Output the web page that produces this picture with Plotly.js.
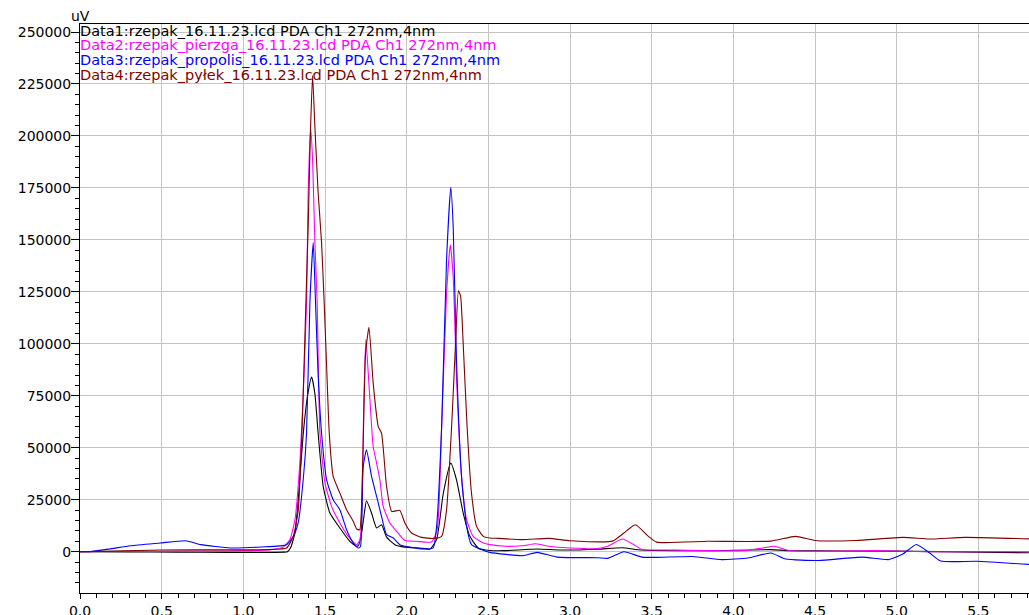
<!DOCTYPE html>
<html>
<head>
<meta charset="utf-8">
<script src="https://cdn.plot.ly/plotly-3.0.1.min.js"></script>
<style>html,body{margin:0;padding:0;background:#fff;}#chart{width:1029px;height:615px;}</style>
</head>
<body>
<div id="chart"></div>
<script>
// Series names / legend texts
const seriesNames = [
  "Data1:rzepak_16.11.23.lcd PDA Ch1 272nm,4nm",
  "Data2:rzepak_pierzga_16.11.23.lcd PDA Ch1 272nm,4nm",
  "Data3:rzepak_propolis_16.11.23.lcd PDA Ch1 272nm,4nm",
  "Data4:rzepak_pyłek_16.11.23.lcd PDA Ch1 272nm,4nm"
];
const seriesColors = ["#000000", "#ff00ff", "#0000ff", "#800000"];

// Data1 (black)
const t1 = [0,0.3,0.6,0.9,1.1,1.25,1.27,1.29,1.316,1.336,1.367,1.395,1.418,1.438,1.458,1.489,1.53,1.591,1.652,1.693,1.705,1.724,1.74,1.754,1.785,1.816,1.846,1.877,1.928,1.989,2.081,2.142,2.183,2.224,2.27,2.305,2.346,2.387,2.438,2.509,2.6,2.8,2.94,3.17,3.32,3.44,3.84,4.23,4.34,5.0,5.81];
const y1 = [0,-100,-200,-300,-300,-200,0,2000,9000,25000,57000,76000,84000,76000,57000,31400,18600,11400,5000,2600,3000,9000,18000,24500,18600,11400,13000,7000,3400,2200,1800,1300,5800,28000,42600,34600,18600,7400,1800,600,500,1300,800,1200,1900,800,500,1000,500,300,-500];

// Data2 (magenta)
const t2 = [0,0.3,0.6,0.9,1.163,1.244,1.285,1.316,1.347,1.367,1.387,1.397,1.412,1.424,1.438,1.452,1.469,1.5,1.54,1.591,1.642,1.693,1.714,1.738,1.75,1.775,1.795,1.816,1.836,1.856,1.897,1.938,1.989,2.06,2.152,2.187,2.214,2.244,2.267,2.285,2.305,2.336,2.367,2.407,2.469,2.509,2.6,2.71,2.79,2.87,3.0,3.17,3.23,3.32,3.39,3.44,3.62,4.07,4.18,4.25,4.34,4.52,4.86,5.2,5.81];
const y2 = [0,200,300,300,1000,2200,5800,15400,44000,76000,119700,172600,203700,188500,148500,119700,57000,33000,21800,13800,7400,3400,5800,73000,102200,73000,50600,42600,34600,21800,13800,9800,5400,5000,4700,10600,60000,124000,147600,132000,84000,36000,15400,7400,4200,3400,2600,2900,3800,2600,1800,1500,2600,6100,3400,1100,800,500,1800,2600,600,200,500,0,0];

// Data3 (blue)
const t3 = [0,0.06,0.18,0.31,0.49,0.647,0.74,0.92,1.11,1.265,1.306,1.336,1.367,1.387,1.408,1.428,1.442,1.458,1.479,1.51,1.55,1.591,1.632,1.673,1.703,1.717,1.734,1.754,1.785,1.816,1.846,1.877,1.918,1.958,2.02,2.101,2.162,2.183,2.214,2.244,2.27,2.285,2.305,2.336,2.367,2.397,2.448,2.509,2.71,2.8,2.92,3.17,3.23,3.33,3.44,3.53,3.75,3.93,4.09,4.23,4.32,4.52,4.79,4.95,5.04,5.12,5.2,5.27,5.49,5.81];
const y3 = [0,0,1300,2900,4200,5300,3400,1800,2300,3400,7400,14000,35000,57000,121000,148700,119700,85000,57000,34600,25000,20200,10600,4200,1800,2500,41000,49000,36200,26600,17000,8200,6600,3400,2200,1300,1800,12200,60000,140000,175300,156000,92000,36000,12200,3400,1300,-300,-1900,-300,-2600,-2900,-3200,0,-2600,-2700,-2300,-3800,-3000,-600,-3500,-4200,-2600,-3800,-1000,3500,-500,-4500,-4600,-6100];

// Data4 (dark red)
const t4 = [0,0.2,0.5,0.9,1.163,1.265,1.306,1.336,1.36,1.383,1.397,1.41,1.424,1.438,1.458,1.479,1.495,1.51,1.526,1.55,1.591,1.632,1.673,1.693,1.712,1.73,1.748,1.769,1.795,1.826,1.846,1.877,1.908,1.958,1.989,2.03,2.091,2.162,2.214,2.244,2.275,2.299,2.317,2.33,2.346,2.37,2.397,2.428,2.469,2.509,2.56,2.71,2.87,3.0,3.26,3.33,3.40,3.48,3.53,3.84,4.23,4.38,4.5,4.75,5.04,5.2,5.42,5.81];
const y4 = [0,300,800,900,1000,1800,7400,20000,60000,119700,156400,200000,229000,204500,172600,148500,119700,89000,57000,36200,28200,20200,14600,11000,10500,40000,95000,108000,81100,60200,57000,31400,19400,19900,13800,9000,6900,6400,7400,20000,60000,100000,125500,123000,100000,60000,28000,12200,7400,6600,6400,5800,6400,5300,5100,9000,13000,7400,4600,5000,5100,7400,5400,5400,6900,6100,6900,6200];

// Axis ticks
const xTickVals = [0.0,0.5,1.0,1.5,2.0,2.5,3.0,3.5,4.0,4.5,5.0,5.5];
const yTickVals = [0,25000,50000,75000,100000,125000,150000,175000,200000,225000,250000];

const xs = [t1,t2,t3,t4], ys = [y1,y2,y3,y4];
const traces = xs.map((x,i) => ({
  x: x, y: ys[i], type: 'scatter', mode: 'lines', name: seriesNames[i],
  line: {color: seriesColors[i], width: 1.1, shape: 'spline', smoothing: 0.5},
  hoverinfo: 'skip'
}));

const FONT = "DejaVu Sans, Liberation Sans, Arial, sans-serif";
const lineY = [-7, -21, -36, -51];
const annotations = seriesNames.map((s,i) => ({
  xref: 'paper', yref: 'paper', x: 0, y: 1, xanchor: 'left', yanchor: 'middle',
  xshift: -2, yshift: lineY[i], showarrow: false, text: s,
  font: {family: FONT, size: 14.5, color: seriesColors[i]}
}));
annotations.push({
  xref: 'paper', yref: 'paper', x: 0, y: 1, xanchor: 'center', yanchor: 'middle',
  xshift: 0, yshift: 8, showarrow: false, text: 'uV',
  font: {family: FONT, size: 14, color: '#000'}
});

const layout = {
  width: 1029, height: 615,
  margin: {l: 80, r: 0, t: 24, b: 22},
  paper_bgcolor: '#fff', plot_bgcolor: '#fff',
  showlegend: false,
  font: {family: FONT, size: 14, color: '#000'},
  xaxis: {
    range: [0, 5.81], tickvals: xTickVals, ticktext: xTickVals.map(v => v.toFixed(1)),
    showgrid: true, gridcolor: '#c4c4c4', gridwidth: 1, zeroline: false,
    showline: true, linecolor: '#000', linewidth: 1, mirror: true,
    ticks: 'outside', ticklen: 5, tickcolor: '#000', tickwidth: 1,
    minor: {dtick: 0.1, tick0: 0, ticks: 'outside', ticklen: 4, tickcolor: '#000', showgrid: false},
    tickfont: {family: FONT, size: 14, color: '#000'}
  },
  yaxis: {
    range: [-19860, 253850], tickvals: yTickVals, ticktext: yTickVals.map(v => String(v)),
    showgrid: true, gridcolor: '#c4c4c4', gridwidth: 1, zeroline: false,
    showline: true, linecolor: '#000', linewidth: 1,
    ticks: 'outside', ticklen: 8, tickcolor: '#000', tickwidth: 1,
    ticklabelstandoff: -3,
    minor: {dtick: 5000, tick0: 0, ticks: 'outside', ticklen: 4, tickcolor: '#000', showgrid: false},
    tickfont: {family: FONT, size: 14, color: '#000'}
  },
  annotations: annotations
};

Plotly.newPlot('chart', traces, layout, {displayModeBar: false, staticPlot: true});
</script>
</body>
</html>
